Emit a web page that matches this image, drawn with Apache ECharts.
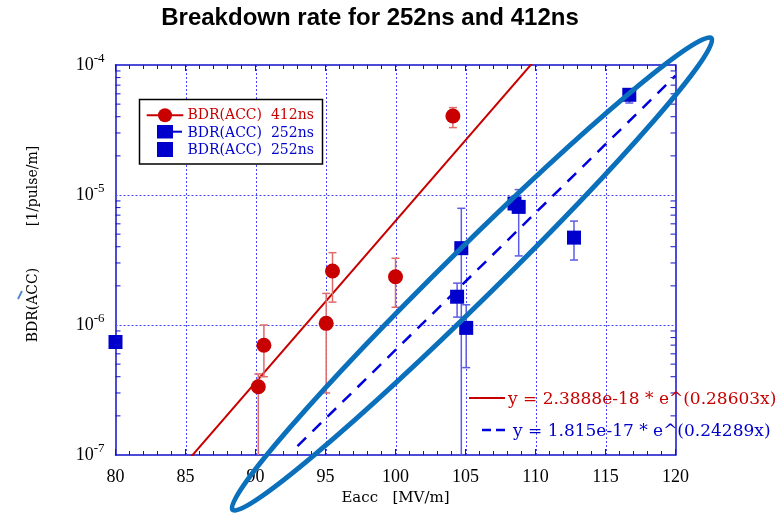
<!DOCTYPE html>
<html><head><meta charset="utf-8">
<script src="https://cdn.jsdelivr.net/npm/echarts@6/dist/echarts.min.js"></script>
<style>html,body{margin:0;padding:0;background:#fff}#c{width:782px;height:517px}</style>
</head><body><div id="c"></div>
<script>
// ---- axis ticks ----
const xTicks = [80, 85, 90, 95, 100, 105, 110, 115, 120];
const yExponents = [-7, -6, -5, -4];

// ---- BDR(ACC) 412ns (red circles with error bars) ----
const red412X  = [90.2, 90.6, 95.05, 95.5, 100.0, 104.1];
const red412Y  = [3.35e-7, 6.98e-7, 1.03e-6, 2.6e-6, 2.35e-6, 4.05e-5];
const red412Lo = [5e-8, 4.0e-7, 3.0e-7, 1.5e-6, 1.37e-6, 3.3e-5];
const red412Hi = [4.2e-7, 1.0e-6, 1.75e-6, 3.6e-6, 3.26e-6, 4.7e-5];

// ---- BDR(ACC) 252ns (blue squares with error bars) ----
const blue252X  = [104.4, 104.7, 105.05, 108.8, 112.75, 116.7];
const blue252Y  = [1.65e-6, 3.9e-6, 9.5e-7, 8.1e-6, 4.7e-6, 5.9e-5];
const blue252Lo = [1.15e-6, 5e-8, 4.7e-7, 3.4e-6, 3.16e-6, 5.1e-5];
const blue252Hi = [2.1e-6, 7.9e-6, 1.43e-6, 1.1e-5, 6.3e-6, 6.4e-5];

// ---- BDR(ACC) 252ns (blue squares, second set) ----
const blue252bX = [80.0, 108.5];
const blue252bY = [7.4e-7, 8.6e-6];

// ---- exponential fits y = a * exp(b x) ----
const fit412Coef = [2.3888e-18, 0.28603];
const fit412Range = [80, 120];
const fit252Coef = [1.815e-17, 0.24289];
const fit252Range = [93, 120];

const legendNames = ['BDR(ACC)  412ns', 'BDR(ACC)  252ns', 'BDR(ACC)  252ns'];
const fitLabels = ['y = 2.3888e-18 * e^(0.28603x)', 'y = 1.815e-17 * e^(0.24289x)'];

const RED = '#c80000', BLUE = '#0000cc', FRAME = '#1010cc', GRIDC = '#4646ff';
const yMin = Math.pow(10, yExponents[0]), yMax = Math.pow(10, yExponents[yExponents.length - 1]);
const xMin = xTicks[0], xMax = xTicks[xTicks.length - 1];

function fitLine(coef, range) {
  return range.map(x => [x, coef[0] * Math.exp(coef[1] * x)]);
}
function pts(xs, ys) { return xs.map((x, i) => [x, ys[i]]); }
function bars(xs, lo, hi) { return xs.map((x, i) => [x, lo[i], hi[i]]); }

function errRender(color) {
  return function (params, api) {
    const x = api.value(0);
    let lo = api.value(1), hi = api.value(2);
    const loClipped = lo < yMin;
    if (loClipped) lo = yMin;
    const pLo = api.coord([x, lo]), pHi = api.coord([x, hi]);
    const cw = 4;
    const st = { stroke: color, lineWidth: 1.5 };
    const ch = [
      { type: 'line', shape: { x1: pLo[0], y1: pLo[1], x2: pHi[0], y2: pHi[1] }, style: st },
      { type: 'line', shape: { x1: pHi[0] - cw, y1: pHi[1], x2: pHi[0] + cw, y2: pHi[1] }, style: st }
    ];
    if (!loClipped) ch.push({ type: 'line', shape: { x1: pLo[0] - cw, y1: pLo[1], x2: pLo[0] + cw, y2: pLo[1] }, style: st });
    return { type: 'group', children: ch };
  };
}

// axis decorations: log minor ticks and dotted grid positions
const yMinorVals = [];
for (let k = 0; k < yExponents.length - 1; k++) {
  for (let m = 2; m <= 9; m++) yMinorVals.push([m * Math.pow(10, yExponents[k])]);
}
const gridVals = xTicks.slice(1, -1).map(x => ['x', x])
  .concat(yExponents.slice(1, -1).map(e => ['y', Math.pow(10, e)]));

const serif = 'Liberation Serif';
const dserif = 'DejaVu Serif';

const chart = echarts.init(document.getElementById('c'), null, { renderer: 'canvas' });
chart.setOption({
  animation: false,
  backgroundColor: '#fff',
  title: {
    text: 'Breakdown rate for 252ns and 412ns',
    left: 370, top: 6, textAlign: 'center', padding: 0,
    textStyle: { fontSize: 24, fontWeight: 'bold', fontFamily: 'Liberation Sans', color: '#000' }
  },
  grid: { left: 115.5, right: 106.5, top: 65, bottom: 62, containLabel: false },
  xAxis: [{
    type: 'value', min: xMin, max: xMax, interval: 5,
    name: 'Eacc   [MV/m]', nameLocation: 'middle', nameGap: 34,
    nameTextStyle: { fontFamily: dserif, fontSize: 15, color: '#000' },
    axisLine: { show: true, onZero: false, lineStyle: { color: FRAME, width: 1.5 } },
    axisTick: { show: true, inside: true, length: 6, lineStyle: { color: FRAME } },
    minorTick: { show: true, splitNumber: 5, length: 4, lineStyle: { color: FRAME } },
    axisLabel: { margin: 13, fontFamily: serif, fontSize: 18, color: '#000' },
    splitLine: { show: false }
  }, {
    type: 'value', min: xMin, max: xMax, interval: 5, position: 'top',
    axisLine: { show: true, onZero: false, lineStyle: { color: FRAME, width: 1.5 } },
    axisTick: { show: true, inside: true, length: 6, lineStyle: { color: FRAME } },
    minorTick: { show: true, splitNumber: 5, length: 4, lineStyle: { color: FRAME } },
    axisLabel: { show: false }, splitLine: { show: false }
  }],
  yAxis: [{
    type: 'log', logBase: 10, min: yMin, max: yMax,
    axisLine: { show: true, onZero: false, lineStyle: { color: FRAME, width: 1.5 } },
    axisTick: { show: false },
    axisLabel: {
      margin: 11, color: '#000',
      formatter: v => '{b|10}{sup|' + Math.round(Math.log10(v)) + '}',
      rich: {
        b: { fontFamily: serif, fontSize: 18, color: '#000' },
        sup: { fontFamily: serif, fontSize: 13, color: '#000', padding: [0, 0, 12, 0] }
      }
    },
    splitLine: { show: false }
  }, {
    type: 'log', logBase: 10, min: yMin, max: yMax, position: 'right',
    axisLine: { show: true, onZero: false, lineStyle: { color: FRAME, width: 1.5 } },
    axisTick: { show: false }, axisLabel: { show: false }, splitLine: { show: false }
  }],
  series: [
    {
      type: 'custom', name: 'grid', data: gridVals, silent: true, z: 1,
      dimensions: [{ name: 'k', type: 'ordinal' }, { name: 'v', type: 'float' }],
      encode: { x: 1 },
      renderItem: function (params, api) {
        const g = gridVals[params.dataIndex];
        let a, b;
        if (g[0] === 'x') { a = api.coord([g[1], yMin]); b = api.coord([g[1], yMax]); }
        else { a = api.coord([xMin, g[1]]); b = api.coord([xMax, g[1]]); }
        const r = v => Math.round(v) + 0.5;
        return { type: 'line',
          shape: g[0] === 'x' ? { x1: r(a[0]), y1: a[1], x2: r(b[0]), y2: b[1] } : { x1: a[0], y1: r(a[1]), x2: b[0], y2: r(b[1]) },
          style: { stroke: GRIDC, lineWidth: 1, lineDash: [2, 2] } };
      }
    },
    {
      type: 'custom', name: 'yminor', data: yMinorVals, silent: true, z: 5,
      encode: { y: 0 },
      renderItem: function (params, api) {
        const v = api.value(0);
        const p = api.coord([xMin, v]), q = api.coord([xMax, v]);
        const st = { stroke: FRAME, lineWidth: 1 };
        return { type: 'group', children: [
          { type: 'line', shape: { x1: p[0], y1: p[1], x2: p[0] + 5, y2: p[1] }, style: st },
          { type: 'line', shape: { x1: q[0] - 5, y1: q[1], x2: q[0], y2: q[1] }, style: st }
        ] };
      }
    },
    {
      type: 'line', name: 'fit412', data: fitLine(fit412Coef, fit412Range),
      symbol: 'none', clip: true, z: 2,
      lineStyle: { color: RED, width: 2 }
    },
    {
      type: 'line', name: 'fit252', data: fitLine(fit252Coef, fit252Range),
      symbol: 'none', clip: true, z: 2,
      lineStyle: { color: '#0000dd', width: 2.5, type: [12, 9] }
    },
    {
      type: 'custom', name: 'err412', data: bars(red412X, red412Lo, red412Hi), z: 3,
      encode: { x: 0, y: [1, 2] }, renderItem: errRender('#e06a6a')
    },
    {
      type: 'custom', name: 'err252', data: bars(blue252X, blue252Lo, blue252Hi), z: 3,
      encode: { x: 0, y: [1, 2] }, renderItem: errRender('#5c5ce6')
    },
    {
      type: 'scatter', name: legendNames[0], data: pts(red412X, red412Y), z: 4,
      symbol: 'circle', symbolSize: 15, itemStyle: { color: RED, opacity: 1 }
    },
    {
      type: 'scatter', name: legendNames[1], data: pts(blue252X, blue252Y), z: 4,
      symbol: 'rect', symbolSize: 14, itemStyle: { color: BLUE, opacity: 1 }
    },
    {
      type: 'scatter', name: legendNames[2] + ' ', data: pts(blue252bX, blue252bY), z: 4,
      symbol: 'rect', symbolSize: 14, itemStyle: { color: BLUE, opacity: 1 }
    }
  ],
  graphic: [
    // y-axis title
    { type: 'text', x: 33, y: 305, rotation: Math.PI / 2, z: 50,
      style: { text: 'BDR(ACC)', fontFamily: dserif, fontSize: 14, fill: '#000', align: 'center', verticalAlign: 'middle' } },
    { type: 'text', x: 33, y: 186, rotation: Math.PI / 2, z: 50,
      style: { text: '[1/pulse/m]', fontFamily: dserif, fontSize: 14, fill: '#000', align: 'center', verticalAlign: 'middle' } },
    { type: 'line', z: 50, shape: { x1: 18, y1: 299, x2: 22, y2: 291 }, style: { stroke: '#4a86c8', lineWidth: 1.8 } },
    // legend box
    { type: 'rect', z: 60, shape: { x: 139.5, y: 99.5, width: 183, height: 64.5 },
      style: { fill: '#fff', stroke: '#000', lineWidth: 1.5 } },
    { type: 'line', z: 61, shape: { x1: 146.7, y1: 115.3, x2: 183.3, y2: 115.3 }, style: { stroke: RED, lineWidth: 2 } },
    { type: 'circle', z: 61, shape: { cx: 165, cy: 115.3, r: 7 }, style: { fill: RED } },
    { type: 'text', z: 61, x: 187.5, y: 115.8,
      style: { text: legendNames[0], fontFamily: dserif, fontSize: 14, fill: RED, verticalAlign: 'middle' } },
    { type: 'line', z: 61, shape: { x1: 157, y1: 131.7, x2: 182, y2: 131.7 }, style: { stroke: BLUE, lineWidth: 2 } },
    { type: 'rect', z: 61, shape: { x: 157, y: 125, width: 16, height: 13.5 }, style: { fill: BLUE } },
    { type: 'text', z: 61, x: 187.5, y: 133,
      style: { text: legendNames[1], fontFamily: dserif, fontSize: 14, fill: BLUE, verticalAlign: 'middle' } },
    { type: 'rect', z: 61, shape: { x: 157, y: 142, width: 16, height: 15 }, style: { fill: BLUE } },
    { type: 'text', z: 61, x: 187.5, y: 150.3,
      style: { text: legendNames[2], fontFamily: dserif, fontSize: 14, fill: BLUE, verticalAlign: 'middle' } },
    // fit legend
    { type: 'line', z: 61, shape: { x1: 469, y1: 398, x2: 505, y2: 398 }, style: { stroke: RED, lineWidth: 2 } },
    { type: 'text', z: 61, x: 508, y: 400,
      style: { text: fitLabels[0], fontFamily: dserif, fontSize: 17, fill: RED, verticalAlign: 'middle' } },
    { type: 'line', z: 61, shape: { x1: 482, y1: 430, x2: 507, y2: 430 }, style: { stroke: '#0000dd', lineWidth: 2.5, lineDash: [9, 5] } },
    { type: 'text', z: 61, x: 513, y: 431.5,
      style: { text: fitLabels[1], fontFamily: dserif, fontSize: 17, fill: BLUE, verticalAlign: 'middle' } },
    // annotation ellipse
    { type: 'ellipse', z: 100, x: 472, y: 274, rotation: 0.778,
      shape: { cx: 0, cy: 0, rx: 336, ry: 26 },
      style: { fill: 'none', stroke: '#0a70bb', lineWidth: 5 } }
  ]
});
</script>
</body></html>
